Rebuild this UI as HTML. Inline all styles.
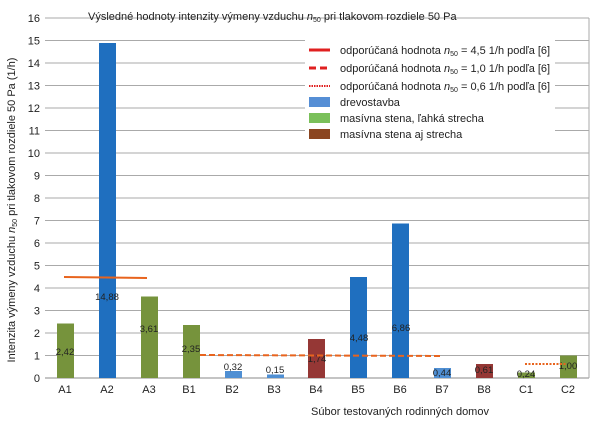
<!DOCTYPE html><html><head><style>body{margin:0;background:#fff}svg{font-family:"Liberation Sans",sans-serif}</style></head><body>
<svg width="600" height="419" viewBox="0 0 600 419">
<g stroke="#aaa" stroke-width="1">
<line x1="45" y1="18" x2="589" y2="18"/><line x1="45" y1="40.5" x2="589" y2="40.5"/><line x1="45" y1="63" x2="589" y2="63"/><line x1="45" y1="85.5" x2="589" y2="85.5"/><line x1="45" y1="108" x2="589" y2="108"/><line x1="45" y1="130.5" x2="589" y2="130.5"/><line x1="45" y1="153" x2="589" y2="153"/><line x1="45" y1="175.5" x2="589" y2="175.5"/><line x1="45" y1="198" x2="589" y2="198"/><line x1="45" y1="220.5" x2="589" y2="220.5"/><line x1="45" y1="243" x2="589" y2="243"/><line x1="45" y1="265.5" x2="589" y2="265.5"/><line x1="45" y1="288" x2="589" y2="288"/><line x1="45" y1="310.5" x2="589" y2="310.5"/><line x1="45" y1="333" x2="589" y2="333"/><line x1="45" y1="355.5" x2="589" y2="355.5"/>
<line x1="45" y1="378" x2="589" y2="378" stroke="#888"/><line x1="589" y1="18" x2="589" y2="378"/>
</g>
<g font-size="11" fill="#222" text-anchor="end">
<text x="40" y="22">16</text><text x="40" y="44.5">15</text><text x="40" y="67">14</text><text x="40" y="89.5">13</text><text x="40" y="112">12</text><text x="40" y="134.5">11</text><text x="40" y="157">10</text><text x="40" y="179.5">9</text><text x="40" y="202">8</text><text x="40" y="224.5">7</text><text x="40" y="247">6</text><text x="40" y="269.5">5</text><text x="40" y="292">4</text><text x="40" y="314.5">3</text><text x="40" y="337">2</text><text x="40" y="359.5">1</text><text x="40" y="382">0</text>
</g>
<g>
<rect x="57" y="323.5" width="17" height="54.5" fill="#76933c"/>
<rect x="99" y="43" width="17" height="335" fill="#1f6fbf"/>
<rect x="141" y="296.5" width="17" height="81.5" fill="#76933c"/>
<rect x="183" y="325" width="17" height="53" fill="#76933c"/>
<rect x="225" y="371" width="17" height="7" fill="#4f8fd3"/>
<rect x="267" y="374.5" width="17" height="3.5" fill="#4f8fd3"/>
<rect x="308" y="339" width="17" height="39" fill="#953735"/>
<rect x="350" y="277" width="17" height="101" fill="#1f6fbf"/>
<rect x="392" y="223.5" width="17" height="154.5" fill="#1f6fbf"/>
<rect x="434" y="368" width="17" height="10" fill="#4f8fd3"/>
<rect x="476" y="364" width="17" height="14" fill="#953735"/>
<rect x="518" y="372.5" width="17" height="5.5" fill="#76933c"/>
<rect x="560" y="355.5" width="17" height="22.5" fill="#76933c"/>
</g>
<g font-size="9.5" fill="#222" text-anchor="middle">
<text x="65" y="355">2,42</text><text x="107" y="300">14,88</text><text x="149" y="332">3,61</text><text x="191" y="352">2,35</text><text x="233" y="370">0,32</text><text x="275" y="373">0,15</text><text x="317" y="362">1,74</text><text x="359" y="341">4,48</text><text x="401" y="331">6,86</text><text x="442" y="376">0,44</text><text x="484" y="373">0,61</text><text x="526" y="377">0,24</text><text x="568" y="369">1,00</text>
</g>
<line x1="64" y1="277" x2="147" y2="278" stroke="#e8641e" stroke-width="2"/>
<line x1="200" y1="355" x2="442" y2="356" stroke="#e8641e" stroke-width="2" stroke-dasharray="6,3"/>
<line x1="525" y1="364" x2="566" y2="364" stroke="#e8641e" stroke-width="2" stroke-dasharray="2,1.5"/>
<g font-size="11" fill="#222" text-anchor="middle">
<text x="65" y="393">A1</text><text x="107" y="393">A2</text><text x="149" y="393">A3</text><text x="189" y="393">B1</text><text x="232" y="393">B2</text><text x="274" y="393">B3</text><text x="316" y="393">B4</text><text x="358" y="393">B5</text><text x="400" y="393">B6</text><text x="442" y="393">B7</text><text x="484" y="393">B8</text><text x="526" y="393">C1</text><text x="568" y="393">C2</text>
</g>
<text x="88" y="20" font-size="11" fill="#222">Výsledné hodnoty intenzity výmeny vzduchu <tspan font-style="italic">n</tspan><tspan font-size="7" dy="2">50</tspan><tspan dy="-2"> pri tlakovom rozdiele 50 Pa</tspan></text>
<text x="400" y="415" font-size="11" fill="#222" text-anchor="middle">Súbor testovaných rodinných domov</text>
<text transform="translate(15,210) rotate(-90)" font-size="11" fill="#222" text-anchor="middle">Intenzita výmeny vzduchu <tspan font-style="italic">n</tspan><tspan font-size="7" dy="2">50</tspan><tspan dy="-2"> pri tlakovom rozdiele 50 Pa (1/h)</tspan></text>
<rect x="305" y="40" width="250" height="105" fill="#fff"/>
<g font-size="11" fill="#222">
<line x1="309" y1="50" x2="330" y2="50" stroke="#e02020" stroke-width="3"/>
<text x="340" y="54">odporúčaná hodnota <tspan font-style="italic">n</tspan><tspan font-size="7" dy="2">50</tspan><tspan dy="-2"> = 4,5 1/h podľa [6]</tspan></text>
<line x1="309" y1="68" x2="330" y2="68" stroke="#e02020" stroke-width="3" stroke-dasharray="7,4"/>
<text x="340" y="72">odporúčaná hodnota <tspan font-style="italic">n</tspan><tspan font-size="7" dy="2">50</tspan><tspan dy="-2"> = 1,0 1/h podľa [6]</tspan></text>
<line x1="309" y1="86" x2="330" y2="86" stroke="#e02020" stroke-width="2" stroke-dasharray="1.5,1"/>
<text x="340" y="90">odporúčaná hodnota <tspan font-style="italic">n</tspan><tspan font-size="7" dy="2">50</tspan><tspan dy="-2"> = 0,6 1/h podľa [6]</tspan></text>
<rect x="309" y="97" width="21" height="10" fill="#558ed5"/><text x="340" y="106">drevostavba</text>
<rect x="309" y="113" width="21" height="10" fill="#7ac05a"/><text x="340" y="122">masívna stena, ľahká strecha</text>
<rect x="309" y="129" width="21" height="10" fill="#8b4520"/><text x="340" y="138">masívna stena aj strecha</text>
</g>
</svg></body></html>
